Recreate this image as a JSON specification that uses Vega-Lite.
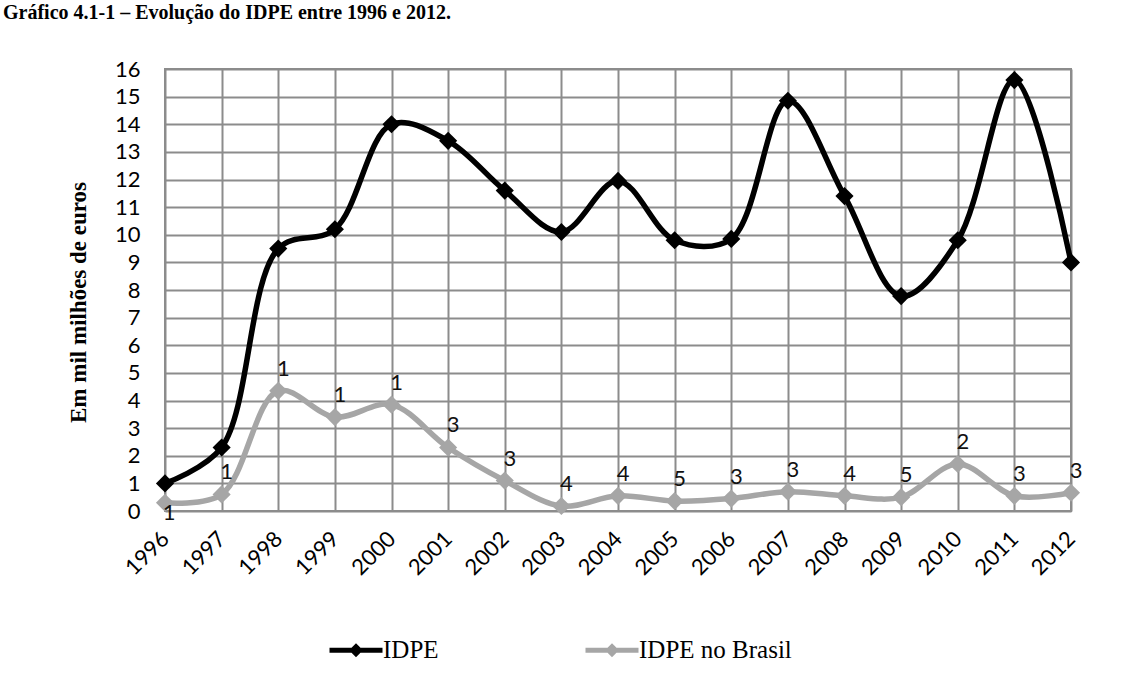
{
  "$schema": "https://vega.github.io/schema/vega-lite/v6.json",
  "width": 906,
  "height": 442,
  "autosize": {"type": "none"},
  "padding": {"left": 165, "top": 69, "right": 58, "bottom": 175},
  "background": "white",
  "title": {
    "text": "Gráfico 4.1-1 – Evolução do IDPE entre 1996 e 2012.",
    "font": "Liberation Serif",
    "fontSize": 20,
    "fontWeight": "bold",
    "color": "black",
    "anchor": "start",
    "frame": "group",
    "baseline": "alphabetic",
    "dx": -162,
    "offset": 19
  },
  "data": {
    "values": [
      {"year": "1996", "series": "IDPE", "value": 1.0},
      {"year": "1997", "series": "IDPE", "value": 2.3},
      {"year": "1998", "series": "IDPE", "value": 9.5},
      {"year": "1999", "series": "IDPE", "value": 10.2},
      {"year": "2000", "series": "IDPE", "value": 14.0},
      {"year": "2001", "series": "IDPE", "value": 13.4},
      {"year": "2002", "series": "IDPE", "value": 11.6},
      {"year": "2003", "series": "IDPE", "value": 10.1},
      {"year": "2004", "series": "IDPE", "value": 11.95},
      {"year": "2005", "series": "IDPE", "value": 9.8},
      {"year": "2006", "series": "IDPE", "value": 9.85},
      {"year": "2007", "series": "IDPE", "value": 14.85},
      {"year": "2008", "series": "IDPE", "value": 11.4},
      {"year": "2009", "series": "IDPE", "value": 7.78},
      {"year": "2010", "series": "IDPE", "value": 9.8},
      {"year": "2011", "series": "IDPE", "value": 15.6},
      {"year": "2012", "series": "IDPE", "value": 9.0},
      {"year": "1996", "series": "IDPE no Brasil", "value": 0.3, "label": "1"},
      {"year": "1997", "series": "IDPE no Brasil", "value": 0.6, "label": "1"},
      {"year": "1998", "series": "IDPE no Brasil", "value": 4.35, "label": "1"},
      {"year": "1999", "series": "IDPE no Brasil", "value": 3.4, "label": "1"},
      {"year": "2000", "series": "IDPE no Brasil", "value": 3.85, "label": "1"},
      {"year": "2001", "series": "IDPE no Brasil", "value": 2.3, "label": "3"},
      {"year": "2002", "series": "IDPE no Brasil", "value": 1.1, "label": "3"},
      {"year": "2003", "series": "IDPE no Brasil", "value": 0.18, "label": "4"},
      {"year": "2004", "series": "IDPE no Brasil", "value": 0.55, "label": "4"},
      {"year": "2005", "series": "IDPE no Brasil", "value": 0.36, "label": "5"},
      {"year": "2006", "series": "IDPE no Brasil", "value": 0.45, "label": "3"},
      {"year": "2007", "series": "IDPE no Brasil", "value": 0.7, "label": "3"},
      {"year": "2008", "series": "IDPE no Brasil", "value": 0.55, "label": "4"},
      {"year": "2009", "series": "IDPE no Brasil", "value": 0.5, "label": "5"},
      {"year": "2010", "series": "IDPE no Brasil", "value": 1.7, "label": "2"},
      {"year": "2011", "series": "IDPE no Brasil", "value": 0.55, "label": "3"},
      {"year": "2012", "series": "IDPE no Brasil", "value": 0.66, "label": "3"}
    ]
  },
  "encoding": {
    "x": {
      "field": "year",
      "type": "ordinal",
      "scale": {"type": "point", "padding": 0},
      "axis": {
        "title": null,
        "grid": true,
        "gridColor": "#8c8c8c",
        "gridWidth": 2,
        "ticks": false,
        "domain": false,
        "labelAngle": -45,
        "labelAlign": "right",
        "labelBaseline": "middle",
        "labelFont": "Lato",
        "labelFontSize": 22,
        "labelColor": "black",
        "labelPadding": 24
      }
    },
    "y": {
      "field": "value",
      "type": "quantitative",
      "scale": {"domain": [0, 16], "nice": false},
      "axis": {
        "values": [0, 1, 2, 3, 4, 5, 6, 7, 8, 9, 10, 11, 12, 13, 14, 15, 16],
        "grid": true,
        "gridColor": "#8c8c8c",
        "gridWidth": 2,
        "ticks": false,
        "domain": false,
        "labelFont": "Lato",
        "labelFontSize": 22,
        "labelColor": "black",
        "labelPadding": 25,
        "title": "Em mil milhões de euros",
        "titleFont": "Liberation Serif",
        "titleFontSize": 23,
        "titleFontWeight": "bold",
        "titleColor": "black",
        "titlePadding": 24,
        "titleY": 233
      }
    },
    "color": {
      "field": "series",
      "type": "nominal",
      "scale": {"domain": ["IDPE", "IDPE no Brasil"], "range": ["#000000", "#a6a6a6"]},
      "legend": {
        "orient": "none",
        "legendX": 162,
        "legendY": 552,
        "direction": "horizontal",
        "title": null,
        "symbolType": "M-1,0H1M0,-0.13L0.13,0L0,0.13L-0.13,0Z",
        "symbolSize": 2809,
        "symbolStrokeWidth": 5,
        "labelFont": "Liberation Serif",
        "labelFontSize": 25,
        "labelColor": "black",
        "labelOffset": -2,
        "columnPadding": 136,
        "encode": {
          "symbols": {
            "update": {
              "fill": {"scale": "color", "field": "value"},
              "stroke": {"scale": "color", "field": "value"},
              "opacity": {"value": 1}
            }
          }
        }
      }
    }
  },
  "layer": [
    {"mark": {"type": "line", "interpolate": "catmull-rom", "strokeWidth": 5.5}},
    {"mark": {"type": "point", "shape": "diamond", "filled": true, "size": 330, "opacity": 1}},
    {
      "transform": [{"filter": "datum.label != null && datum.year != '1996'"}],
      "mark": {"type": "text", "dy": -10, "dx": 5, "baseline": "bottom", "font": "Lato", "fontSize": 22},
      "encoding": {"text": {"field": "label"}, "color": {"value": "#111111"}}
    },
    {
      "transform": [{"filter": "datum.label != null && datum.year == '1996'"}],
      "mark": {"type": "text", "dy": 0, "dx": 4, "baseline": "top", "font": "Lato", "fontSize": 22},
      "encoding": {"text": {"field": "label"}, "color": {"value": "#111111"}}
    }
  ],
  "config": {"view": {"stroke": "#8c8c8c", "strokeWidth": 2}}
}
